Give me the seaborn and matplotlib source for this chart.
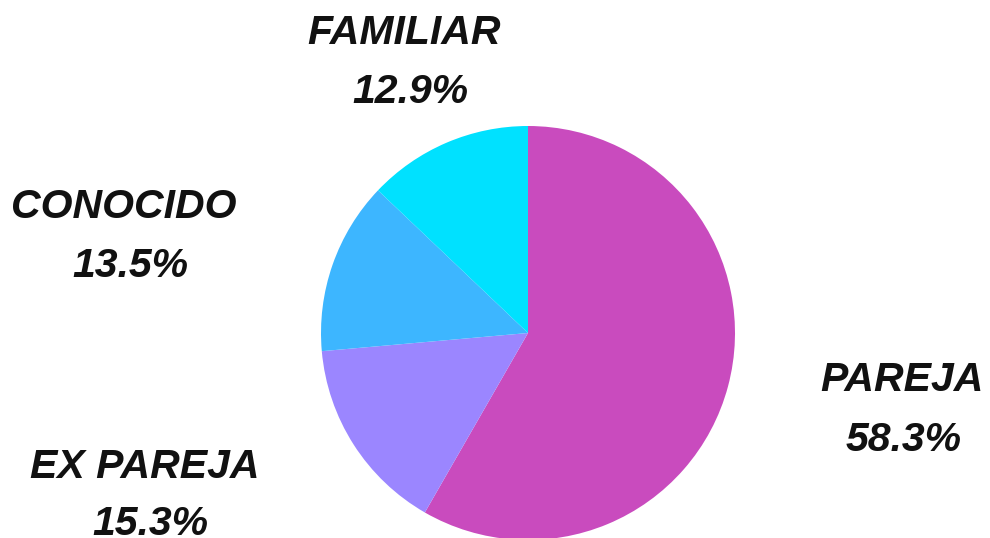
import matplotlib
matplotlib.use("Agg")
import matplotlib.pyplot as plt
import seaborn as sns

categories = ["PAREJA", "EX PAREJA", "CONOCIDO", "FAMILIAR"]
values = [58.3, 15.3, 13.5, 12.9]
colors = ["#C94BBE", "#9B86FF", "#3DB6FF", "#00E1FF"]

# label anchor points (pixels from top-left) for name / percent lines
name_pos = [(902, 380), (145, 467), (124, 207), (404, 33)]
pct_pos = [(904, 440), (150, 524), (130, 266), (410, 92)]

sns.set_theme(style="white")
plt.rcParams['font.family'] = ['Liberation Sans', 'DejaVu Sans']

W, H = 990, 538
fig = plt.figure(figsize=(W / 100, H / 100), dpi=100)
fig.patch.set_facecolor("white")

# pie centre ~ (528, 333) px, radius ~207 px
cx, cy, r = 528, 333, 207
ax = fig.add_axes([(cx - r) / W, (H - cy - r) / H, 2 * r / W, 2 * r / H])
wedges, _ = ax.pie(values, colors=colors, startangle=90, counterclock=False,
                   radius=1, wedgeprops=dict(linewidth=0))
ax.set_xlim(-1, 1)
ax.set_ylim(-1, 1)
ax.set_aspect("equal")
ax.axis("off")
for w in wedges:
    w.set_clip_on(False)

txt = dict(ha="center", va="center", fontsize=29.5, fontweight="bold",
           fontstyle="italic", color="#111111")
for name, v, (nx, ny), (px, py) in zip(categories, values, name_pos, pct_pos):
    fig.text(nx / W, 1 - ny / H, name, **txt)
    fig.text(px / W, 1 - py / H, f"{v:.1f}%", **txt)

plt.savefig("out.png", dpi=100, facecolor="white")
plt.close()
